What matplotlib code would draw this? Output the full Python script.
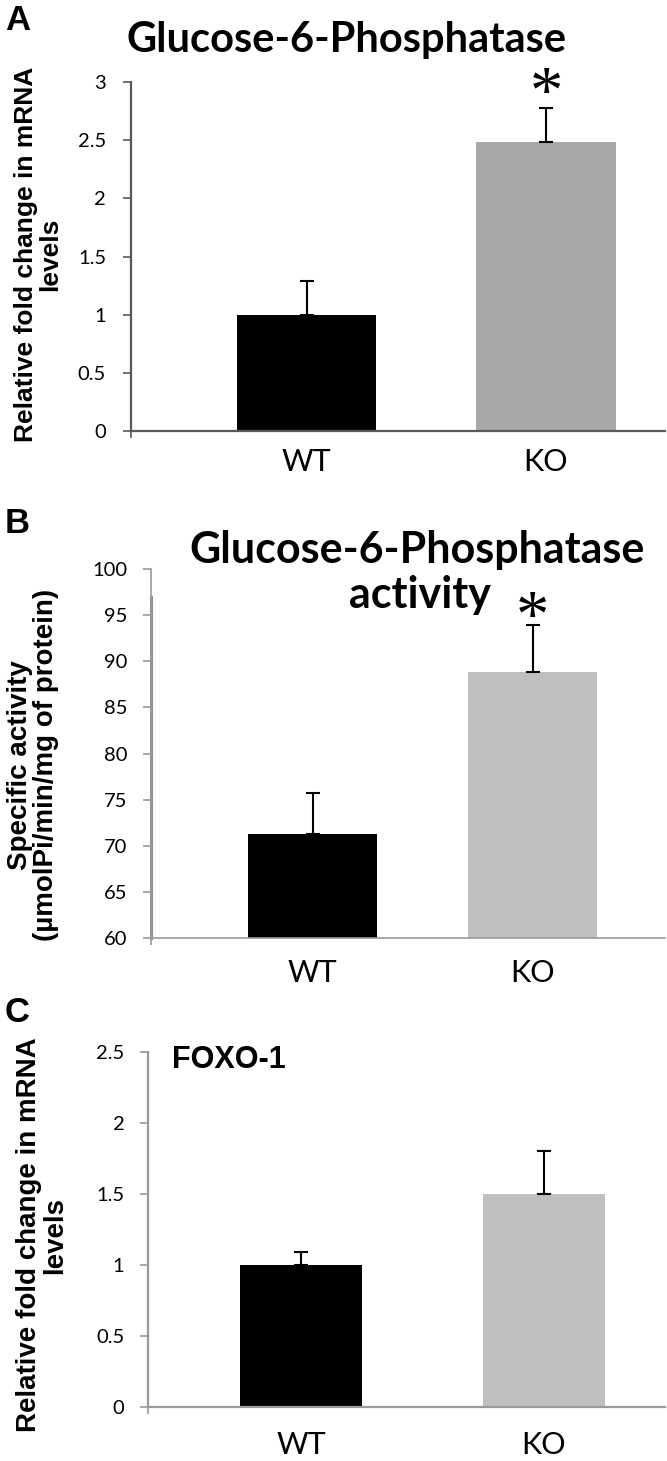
import matplotlib
matplotlib.use("Agg")
import matplotlib.pyplot as plt

# ---------------- data ----------------
groups = ["WT", "KO"]

a_values = [1.0, 2.48]
a_errors = [0.29, 0.30]
a_ticks = [0, 0.5, 1, 1.5, 2, 2.5, 3]
a_ticklabels = ["0", "0.5", "1", "1.5", "2", "2.5", "3"]
a_star = 2.74

b_values = [71.3, 88.8]
b_errors = [4.4, 5.1]
b_ticks = [60, 65, 70, 75, 80, 85, 90, 95, 100]
b_ticklabels = ["60", "65", "70", "75", "80", "85", "90", "95", "100"]
b_star = 92.7

c_values = [1.0, 1.5]
c_errors = [0.09, 0.30]
c_ticks = [0, 0.5, 1, 1.5, 2, 2.5]
c_ticklabels = ["0", "0.5", "1", "1.5", "2", "2.5"]

W, H = 667, 1461
fig = plt.figure(figsize=(W / 100, H / 100), dpi=100)

TICKFONT = "Lato"
TITLEFONT = "Lato"
LABELFONT = "Liberation Sans"


def rect(left, right, top, bottom):
    return [left / W, 1 - bottom / H, (right - left) / W, (bottom - top) / H]


def px(x, y):
    return x / W, 1 - y / H


def make_panel(r, values, errors, ticks, ticklabels, ylim, c1, c2,
               left_px, right_px, c0_px, c1_px, barw_px, axcolor, axlw,
               xlab_y_px, pad):
    ax = fig.add_axes(r)
    sp = c1_px - c0_px
    xl = (left_px - c0_px) / sp
    xr = (right_px - c0_px) / sp
    pos = [0, 1]
    ax.bar(pos, values, width=barw_px / sp, color=[c1, c2], zorder=2)
    ax.errorbar(pos, values, yerr=[[0, 0], errors], fmt="none",
                ecolor="black", elinewidth=1.5, capsize=5, capthick=1.5,
                zorder=3)
    ax.set_xlim(xl, xr)
    ax.set_ylim(*ylim)
    ax.set_yticks(ticks)
    ax.set_yticklabels(ticklabels, fontfamily=TICKFONT, fontsize=14.5)
    ax.set_xticks([xl])
    ax.set_xticklabels([""])
    ax.tick_params(axis="y", direction="out", length=6, width=1.2,
                   color=axcolor, pad=pad)
    ax.tick_params(axis="x", direction="out", length=5, width=1.2,
                   color=axcolor)
    for s in ["top", "right"]:
        ax.spines[s].set_visible(False)
    for s in ["left", "bottom"]:
        ax.spines[s].set_color(axcolor)
        ax.spines[s].set_linewidth(axlw)
    for i, g in enumerate(groups):
        xf = (c0_px + i * sp) / W
        fig.text(xf, 1 - xlab_y_px / H, g, ha="center", va="center",
                 fontfamily=TICKFONT, fontsize=22)
    return ax


# ---------------- Panel A ----------------
axA = make_panel(rect(131, 665, 82, 431), a_values, a_errors, a_ticks,
                 a_ticklabels, (0, 3), "black", "#a8a8a8",
                 131, 665, 306.5, 546, 139.5, "#595959", 1.6, 462, 12)
axA.text(1, a_star, "*", ha="center", va="baseline", fontsize=48,
         fontfamily="Liberation Serif", clip_on=False)
fig.text(*px(347, 40), "Glucose-6-Phosphatase", ha="center", va="center",
         fontfamily=TITLEFONT, fontweight="bold", fontsize=30)
fig.text(*px(38, 254), "Relative fold change in mRNA\nlevels", rotation=90,
         ha="center", va="center", multialignment="center", linespacing=1.0,
         fontfamily=LABELFONT, fontweight="bold", fontsize=19)
fig.text(*px(18, 20), "A", ha="center", va="center", fontfamily=LABELFONT,
         fontweight="bold", fontsize=25)

# ---------------- Panel B ----------------
axB = make_panel(rect(151, 665, 569, 938), b_values, b_errors, b_ticks,
                 b_ticklabels, (60, 100), "black", "#bfbfbf",
                 151, 665, 312.5, 532.5, 129, "#9a9a9a", 1.2, 973, 11)
axB.plot([0, 0], [60, 97], transform=axB.get_yaxis_transform(),
         color="#8c8c8c", lw=2.2, clip_on=False, zorder=1)
axB.text(1, b_star, "*", ha="center", va="baseline", fontsize=48,
         fontfamily="Liberation Serif", clip_on=False)
fig.text(*px(417, 550), "Glucose-6-Phosphatase", ha="center",
         va="center", fontfamily=TITLEFONT, fontweight="bold", fontsize=31)
fig.text(*px(420, 595), "activity", ha="center",
         va="center", fontfamily=TITLEFONT, fontweight="bold", fontsize=31)
fig.text(*px(33, 765), "Specific activity\n(µmolPi/min/mg of protein)",
         rotation=90, ha="center", va="center", multialignment="center",
         linespacing=1.0,
         fontfamily=LABELFONT, fontweight="bold", fontsize=20)
fig.text(*px(17, 523), "B", ha="center", va="center", fontfamily=LABELFONT,
         fontweight="bold", fontsize=25)

# ---------------- Panel C ----------------
axC = make_panel(rect(148, 665, 1052, 1407), c_values, c_errors, c_ticks,
                 c_ticklabels, (0, 2.5), "black", "#bfbfbf",
                 148, 665, 301, 543.5, 122, "#9a9a9a", 1.6, 1445, 11)
fig.text(*px(172, 1060), "FOXO-1", ha="left", va="center",
         fontfamily=LABELFONT, fontweight="bold", fontsize=22)
fig.text(*px(42, 1235), "Relative fold change in mRNA\nlevels", rotation=90,
         ha="center", va="center", multialignment="center", linespacing=1.0,
         fontfamily=LABELFONT, fontweight="bold", fontsize=20)
fig.text(*px(17, 1012), "C", ha="center", va="center", fontfamily=LABELFONT,
         fontweight="bold", fontsize=25)

fig.savefig("out.png", dpi=100)
